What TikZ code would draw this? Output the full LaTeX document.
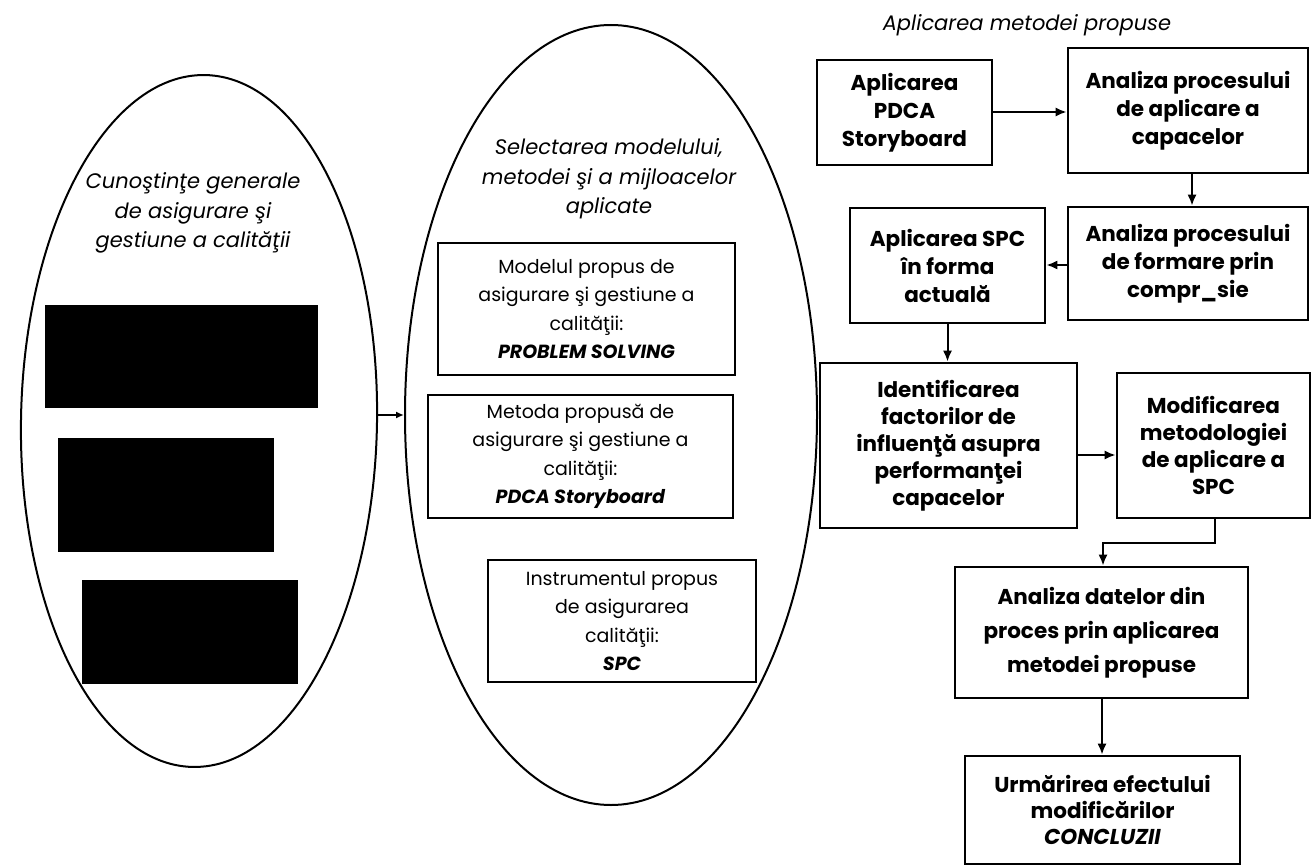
\documentclass[tikz,border=0pt]{standalone}
\usepackage{fontspec}
\setmainfont{Poppins}
\usetikzlibrary{arrows.meta,shapes.geometric}

\begin{document}
\begin{tikzpicture}[x=1pt,y=-1pt,
  box/.style={draw,line width=2.6pt,inner sep=0pt,align=center,
    font=\bfseries\fontsize{21.5}{28}\selectfont},
  mbox/.style={draw,line width=2pt,inner sep=0pt,align=center,
    font=\fontsize{19}{28.5}\selectfont},
  lbl/.style={align=center,inner sep=0pt,font=\itshape\fontsize{21}{29.5}\selectfont},
  oval/.style={draw,ellipse,line width=2pt,inner sep=0pt},
  hidden/.style={fill=black,inner sep=0pt},
  arr/.style={line width=2pt,-{Latex[length=11pt,width=9pt]}},
  ]
\useasboundingbox (0,0) rectangle (1313,866);

% two ovals on the left
\node[oval,minimum width=356,minimum height=692,rotate=-1] (know) at (199,421) {};
\node[oval,minimum width=412,minimum height=780] (sel) at (611,415) {};

\node[lbl] (knowtxt) at (193,213) {Cunoştinţe generale\\de asigurare şi\\gestiune a calităţii};
\node[hidden,minimum width=273,minimum height=103] (k1) at (181.5,356.5) {};
\node[hidden,minimum width=216,minimum height=114] (k2) at (166,495) {};
\node[hidden,minimum width=216,minimum height=104] (k3) at (190,632) {};

\node[lbl] (seltxt) at (609,179) {Selectarea modelului,\\metodei şi a mijloacelor\\aplicate};
\node[mbox,minimum width=297,minimum height=132] (m1) at (586.5,309)
  {Modelul propus de\\asigurare şi gestiune a\\calităţii:\\\textbf{\textit{PROBLEM SOLVING}}};
\node[mbox,minimum width=305,minimum height=123] (m2) at (580.5,456.5)
  {Metoda propusă de\\asigurare şi gestiune a\\calităţii:\\\textbf{\textit{PDCA Storyboard}}};
\node[mbox,minimum width=268,minimum height=122] (m3) at (622,621)
  {Instrumentul propus\\de asigurarea\\calităţii:\\\textbf{\textit{SPC}}};

% flow on the right
\node[lbl] (title) at (1027,25) {Aplicarea metodei propuse};
\node[box,minimum width=175,minimum height=105] (a) at (904.5,112.5) {Aplicarea\\PDCA\\Storyboard};
\node[box,minimum width=240,minimum height=125] (b) at (1188,110.5) {Analiza procesului\\de aplicare a\\capacelor};
\node[box,minimum width=240,minimum height=113] (c) at (1188,263.5) {Analiza procesului\\de formare prin\\compr\_sie};
\node[box,minimum width=195,minimum height=115] (d) at (947.5,265.5) {Aplicarea SPC\\în forma\\actuală};
\node[box,minimum width=257,minimum height=165,
  font=\bfseries\fontsize{21.5}{27}\selectfont] (e) at (948.5,445.5)
  {Identificarea\\factorilor de\\influenţă asupra\\performanţei\\capacelor};
\node[box,minimum width=193,minimum height=145,
  font=\bfseries\fontsize{21.5}{27}\selectfont] (f) at (1213.5,445.5)
  {Modificarea\\metodologiei\\de aplicare a\\SPC};
\node[box,minimum width=293,minimum height=131,
  font=\bfseries\fontsize{21.5}{34}\selectfont] (g) at (1101.5,632.5)
  {Analiza datelor din\\proces prin aplicarea\\metodei propuse};
\node[box,minimum width=275,minimum height=108,
  font=\bfseries\fontsize{21.5}{26}\selectfont] (h) at (1102.5,810)
  {Urmărirea efectului\\modificărilor\\\textit{CONCLUZII}};

\coordinate (fg) at (1103,543);

\draw[arr,line width=1.6pt,-{Latex[length=8pt,width=7pt]}] (sel.west -| know.east) -- (sel.west);
\draw[arr] (a.east |- 0,112) -- (b.west |- 0,112);
\draw[arr] (b.south -| 1192,0) -- (c.north -| 1192,0);
\draw[arr] (c.west |- 0,265) -- (d.east |- 0,265);
\draw[arr] (d.south) -- (e.north -| d.south);
\draw[arr] (e.east |- 0,455) -- (f.west |- 0,455);
\draw[arr] (f.south -| 1215,0) |- (fg) -- (g.north -| fg);
\draw[arr] (g.south -| 1102,0) -- (h.north -| 1102,0);
\end{tikzpicture}
\end{document}
